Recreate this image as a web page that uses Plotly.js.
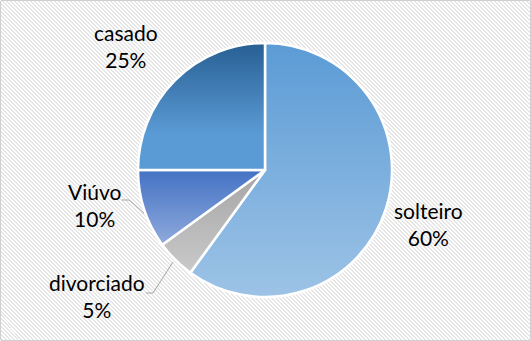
<!DOCTYPE html>
<html>
<head>
<meta charset="utf-8">
<script src="https://cdn.plot.ly/plotly-3.0.1.min.js"></script>
<style>
  html, body { margin: 0; padding: 0; }
  body {
    width: 531px; height: 341px; overflow: hidden;
    background: repeating-linear-gradient(45deg, #ffffff 0px, #ffffff 1.4142px, #e6e6e6 1.4142px, #e6e6e6 2.8284px);
  }
  #frame {
    position: absolute; left: 0; top: 0; width: 529px; height: 339px;
    border: 1px solid #d0d0d0; border-radius: 2px;
  }
  #chart { position: absolute; left: 0; top: 0; width: 531px; height: 341px; }
</style>
</head>
<body>
<div id="frame"></div>
<div id="chart"></div>
<script>
const categories = ["solteiro", "divorciado", "Viúvo", "casado"];
const values = [60, 5, 10, 25];
const baseColors = ["#7aaedd", "#b7b7b7", "#6a8ed0", "#4a82bb"];
const gradients = [
  [["0", "#5b9bd5"], ["1", "#9dc3e6"]],
  [["0", "#a5a5a5"], ["1", "#c9c9c9"]],
  [["0", "#4472c4"], ["1", "#8faadc"]],
  [["0", "#275f93"], ["0.72", "#5b9bd5"], ["1", "#5b9bd5"]]
];

const W = 531, H = 341;
const cx = 265, cy = 170, r = 127;

// label placements (pixel centers) for each category
const labelPos = [[428, 224], [97, 296], [95, 205], [126, 46]];

const total = values.reduce((a, b) => a + b, 0);
const annotations = categories.map((c, i) => ({
  text: c + "<br>" + Math.round(values[i] / total * 100) + "%",
  x: labelPos[i][0] / W, y: 1 - labelPos[i][1] / H,
  xref: "paper", yref: "paper", showarrow: false,
  xanchor: "center", yanchor: "middle",
  font: { family: "Lato, 'Liberation Sans', sans-serif", size: 21, color: "#000000" },
  align: "center"
}));

function px(x, y) { return [x / W, 1 - y / H]; }
function pathOf(pts) {
  return "M " + pts.map(p => { const q = px(p[0], p[1]); return q[0] + "," + q[1]; }).join(" L ");
}

const shapes = [
  { type: "path", xref: "paper", yref: "paper", path: pathOf([[122, 200], [129, 200], [144, 213]]),
    line: { color: "#a6a6a6", width: 1 } },
  { type: "path", xref: "paper", yref: "paper", path: pathOf([[146, 293], [153, 293], [173, 262]]),
    line: { color: "#a6a6a6", width: 1 } }
];

const trace = {
  type: "pie",
  labels: categories,
  values: values,
  sort: false,
  direction: "clockwise",
  rotation: 0,
  textinfo: "none",
  hoverinfo: "none",
  marker: { colors: baseColors, line: { color: "#ffffff", width: 2.5 } },
  domain: { x: [(cx - r) / W, (cx + r) / W], y: [(H - cy - r) / H, (H - cy + r) / H] },
  showlegend: false
};

const layout = {
  width: W, height: H,
  margin: { l: 0, r: 0, t: 0, b: 0 },
  paper_bgcolor: "rgba(0,0,0,0)",
  plot_bgcolor: "rgba(0,0,0,0)",
  annotations: annotations,
  shapes: shapes
};

Plotly.newPlot("chart", [trace], layout, { staticPlot: true }).then(gd => {
  const svg = gd.querySelector("svg.main-svg");
  const NS = "http://www.w3.org/2000/svg";
  let defs = svg.querySelector("defs");
  if (!defs) { defs = document.createElementNS(NS, "defs"); svg.insertBefore(defs, svg.firstChild); }
  gradients.forEach((stops, i) => {
    const g = document.createElementNS(NS, "linearGradient");
    g.setAttribute("id", "sliceGrad" + i);
    g.setAttribute("x1", "0"); g.setAttribute("y1", "0");
    g.setAttribute("x2", "0"); g.setAttribute("y2", "1");
    stops.forEach(s => {
      const st = document.createElementNS(NS, "stop");
      st.setAttribute("offset", s[0]);
      st.setAttribute("stop-color", s[1]);
      g.appendChild(st);
    });
    defs.appendChild(g);
  });
  const slices = gd.querySelectorAll("g.slice");
  slices.forEach((sl, i) => {
    const p = sl.querySelector("path.surface");
    if (p) p.style.fill = "url(#sliceGrad" + i + ")";
  });
});
</script>
</body>
</html>
